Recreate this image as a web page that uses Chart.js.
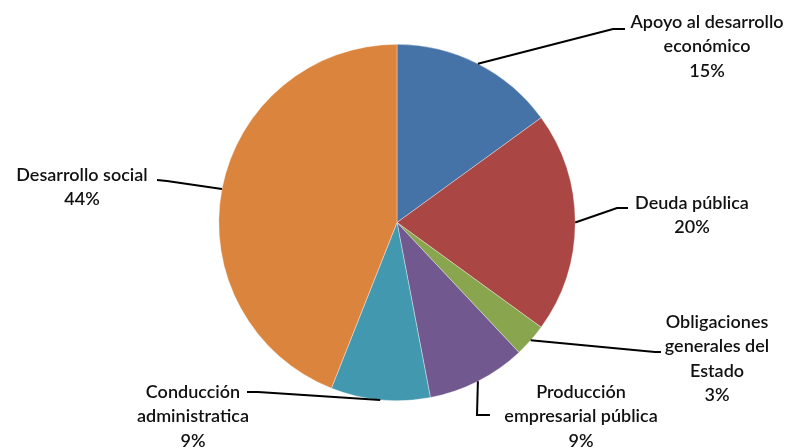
<!DOCTYPE html>
<html>
<head>
<meta charset="utf-8">
<script src="https://cdn.jsdelivr.net/npm/chart.js@4"></script>
<style>
  html, body { margin: 0; padding: 0; background: #fff; }
  #wrap { width: 792px; height: 448px; }
</style>
</head>
<body>
<div id="wrap"><canvas id="chart" width="792" height="448"></canvas></div>
<script>
const CATEGORIES = [
  ["Apoyo al desarrollo", "económico"],
  ["Deuda pública"],
  ["Obligaciones", "generales del", "Estado"],
  ["Producción", "empresarial pública"],
  ["Conducción", "administratica"],
  ["Desarrollo social"],
];
const VALUES = [15, 20, 3, 9, 9, 44];
const COLORS = ["#4572A7", "#AA4643", "#89A54E", "#71588F", "#4198AF", "#DB843D"];

// where each label sits: text center x, first line y, leader elbow and tail end
const LABEL_LAYOUT = [
  { x: 707, y: 22, elbow: [613, 29], end: [625, 29] },
  { x: 692, y: 203, elbow: [617, 208], end: [628, 208] },
  { x: 717, y: 322, elbow: [655, 352], end: [661, 352] },
  { x: 581, y: 392, elbow: [477, 415], end: [490, 415] },
  { x: 193, y: 392, elbow: [258, 392], end: [247, 392] },
  { x: 82, y: 175, elbow: [167, 181], end: [157, 180] },
];

const total = VALUES.reduce((a, b) => a + b, 0);

const leaderLabels = {
  id: "leaderLabels",
  afterDatasetsDraw(chart) {
    const ctx = chart.ctx;
    const meta = chart.getDatasetMeta(0);
    ctx.save();
    meta.data.forEach((arc, i) => {
      const p = arc.getProps(["x", "y", "startAngle", "endAngle", "outerRadius"], true);
      const mid = (p.startAngle + p.endAngle) / 2;
      const sx = p.x + Math.cos(mid) * p.outerRadius;
      const sy = p.y + Math.sin(mid) * p.outerRadius;
      const lay = LABEL_LAYOUT[i];

      ctx.strokeStyle = "#000";
      ctx.lineWidth = 2;
      ctx.beginPath();
      ctx.moveTo(sx, sy);
      ctx.lineTo(lay.elbow[0], lay.elbow[1]);
      ctx.lineTo(lay.end[0], lay.end[1]);
      ctx.stroke();

      const lines = CATEGORIES[i].concat([Math.round(VALUES[i] / total * 100) + "%"]);
      ctx.fillStyle = "#111";
      ctx.font = "600 18px Lato";
      ctx.textAlign = "center";
      ctx.textBaseline = "middle";
      lines.forEach((t, k) => ctx.fillText(t, lay.x, lay.y + k * 24.5));
    });
    ctx.restore();
  },
};

new Chart(document.getElementById("chart"), {
  type: "pie",
  data: {
    labels: CATEGORIES.map((c) => c.join(" ")),
    datasets: [
      {
        data: VALUES,
        backgroundColor: COLORS,
        borderColor: "rgba(255,255,255,0.6)",
        borderWidth: 0.6,
      },
    ],
  },
  options: {
    responsive: false,
    animation: false,
    layout: { padding: { left: 218, right: 216, top: 44, bottom: 47 } },
    plugins: {
      legend: { display: false },
      tooltip: { enabled: false },
    },
  },
  plugins: [leaderLabels],
});
</script>
</body>
</html>
